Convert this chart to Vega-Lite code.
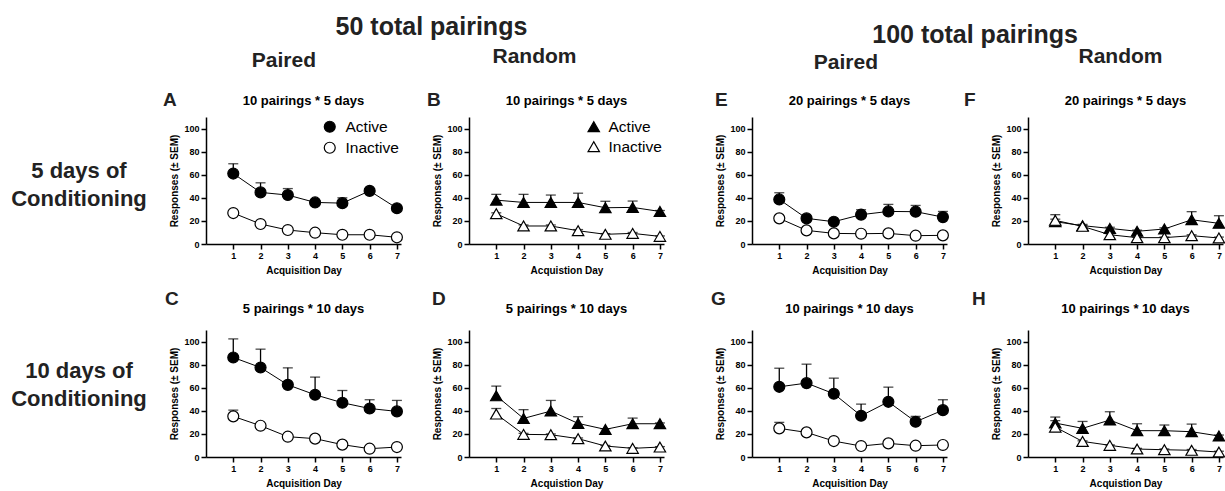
{
"$schema": "https://vega.github.io/schema/vega-lite/v6.json",
"background": "white",
"padding": {"top": 15, "left": 4, "right": 1, "bottom": 0},
"datasets": {
"main": [
{"panel":"A","series":"Active","day":1,"mean":61,"upper":69.5},
{"panel":"A","series":"Active","day":2,"mean":44.7,"upper":53},
{"panel":"A","series":"Active","day":3,"mean":42.4,"upper":48},
{"panel":"A","series":"Active","day":4,"mean":36,"upper":37},
{"panel":"A","series":"Active","day":5,"mean":35.4,"upper":40},
{"panel":"A","series":"Active","day":6,"mean":46,"upper":47},
{"panel":"A","series":"Active","day":7,"mean":31,"upper":32},
{"panel":"A","series":"Inactive","day":1,"mean":26.8,"upper":27.5},
{"panel":"A","series":"Inactive","day":2,"mean":17.3,"upper":18},
{"panel":"A","series":"Inactive","day":3,"mean":12.1,"upper":13},
{"panel":"A","series":"Inactive","day":4,"mean":9.8,"upper":10.5},
{"panel":"A","series":"Inactive","day":5,"mean":8,"upper":8.5},
{"panel":"A","series":"Inactive","day":6,"mean":8,"upper":8.5},
{"panel":"A","series":"Inactive","day":7,"mean":5.8,"upper":6.5},
{"panel":"B","series":"Active","day":1,"mean":38,"upper":43},
{"panel":"B","series":"Active","day":2,"mean":36,"upper":43},
{"panel":"B","series":"Active","day":3,"mean":36,"upper":42.4},
{"panel":"B","series":"Active","day":4,"mean":36,"upper":44},
{"panel":"B","series":"Active","day":5,"mean":31.4,"upper":37},
{"panel":"B","series":"Active","day":6,"mean":31.7,"upper":37.2},
{"panel":"B","series":"Active","day":7,"mean":28.2,"upper":29},
{"panel":"B","series":"Inactive","day":1,"mean":26.2,"upper":27},
{"panel":"B","series":"Inactive","day":2,"mean":15.6,"upper":16.5},
{"panel":"B","series":"Inactive","day":3,"mean":15.6,"upper":16.5},
{"panel":"B","series":"Inactive","day":4,"mean":11.5,"upper":12.5},
{"panel":"B","series":"Inactive","day":5,"mean":8.4,"upper":9},
{"panel":"B","series":"Inactive","day":6,"mean":9.2,"upper":10},
{"panel":"B","series":"Inactive","day":7,"mean":6.6,"upper":7},
{"panel":"E","series":"Active","day":1,"mean":38.6,"upper":44.4},
{"panel":"E","series":"Active","day":2,"mean":22.2,"upper":23},
{"panel":"E","series":"Active","day":3,"mean":19.3,"upper":20},
{"panel":"E","series":"Active","day":4,"mean":25.4,"upper":29.7},
{"panel":"E","series":"Active","day":5,"mean":28.2,"upper":34.3},
{"panel":"E","series":"Active","day":6,"mean":28,"upper":33.4},
{"panel":"E","series":"Active","day":7,"mean":23.3,"upper":28.2},
{"panel":"E","series":"Inactive","day":1,"mean":22.2,"upper":23},
{"panel":"E","series":"Inactive","day":2,"mean":11.8,"upper":12.5},
{"panel":"E","series":"Inactive","day":3,"mean":9.2,"upper":10},
{"panel":"E","series":"Inactive","day":4,"mean":8.9,"upper":9.5},
{"panel":"E","series":"Inactive","day":5,"mean":9.2,"upper":10},
{"panel":"E","series":"Inactive","day":6,"mean":7.2,"upper":8},
{"panel":"E","series":"Inactive","day":7,"mean":7.5,"upper":8},
{"panel":"F","series":"Active","day":1,"mean":19.3,"upper":25.4},
{"panel":"F","series":"Active","day":2,"mean":15.9,"upper":17},
{"panel":"F","series":"Active","day":3,"mean":13.5,"upper":14.5},
{"panel":"F","series":"Active","day":4,"mean":11,"upper":12},
{"panel":"F","series":"Active","day":5,"mean":13,"upper":14},
{"panel":"F","series":"Active","day":6,"mean":21,"upper":28},
{"panel":"F","series":"Active","day":7,"mean":17.9,"upper":24.5},
{"panel":"F","series":"Inactive","day":1,"mean":20.5,"upper":21.5},
{"panel":"F","series":"Inactive","day":2,"mean":15.3,"upper":16},
{"panel":"F","series":"Inactive","day":3,"mean":8,"upper":9},
{"panel":"F","series":"Inactive","day":4,"mean":5.5,"upper":6},
{"panel":"F","series":"Inactive","day":5,"mean":5.5,"upper":6},
{"panel":"F","series":"Inactive","day":6,"mean":7.2,"upper":8},
{"panel":"F","series":"Inactive","day":7,"mean":5.2,"upper":6},
{"panel":"C","series":"Active","day":1,"mean":86.2,"upper":102.3},
{"panel":"C","series":"Active","day":2,"mean":77.5,"upper":93.4},
{"panel":"C","series":"Active","day":3,"mean":62.5,"upper":77.2},
{"panel":"C","series":"Active","day":4,"mean":53.9,"upper":69.2},
{"panel":"C","series":"Active","day":5,"mean":47,"upper":57.6},
{"panel":"C","series":"Active","day":6,"mean":42,"upper":49.6},
{"panel":"C","series":"Active","day":7,"mean":39.5,"upper":49},
{"panel":"C","series":"Inactive","day":1,"mean":35.2,"upper":40.6},
{"panel":"C","series":"Inactive","day":2,"mean":27.1,"upper":28},
{"panel":"C","series":"Inactive","day":3,"mean":17.6,"upper":18.5},
{"panel":"C","series":"Inactive","day":4,"mean":15.9,"upper":16.5},
{"panel":"C","series":"Inactive","day":5,"mean":10.7,"upper":11.5},
{"panel":"C","series":"Inactive","day":6,"mean":7.2,"upper":8},
{"panel":"C","series":"Inactive","day":7,"mean":8.6,"upper":9.5},
{"panel":"D","series":"Active","day":1,"mean":53,"upper":61.4},
{"panel":"D","series":"Active","day":2,"mean":33.4,"upper":41},
{"panel":"D","series":"Active","day":3,"mean":39.8,"upper":49},
{"panel":"D","series":"Active","day":4,"mean":29.1,"upper":34.9},
{"panel":"D","series":"Active","day":5,"mean":23.9,"upper":24.5},
{"panel":"D","series":"Active","day":6,"mean":28.8,"upper":33.7},
{"panel":"D","series":"Active","day":7,"mean":28.8,"upper":29.5},
{"panel":"D","series":"Inactive","day":1,"mean":37.2,"upper":42},
{"panel":"D","series":"Inactive","day":2,"mean":19.6,"upper":20.5},
{"panel":"D","series":"Inactive","day":3,"mean":19.3,"upper":20},
{"panel":"D","series":"Inactive","day":4,"mean":15.9,"upper":16.5},
{"panel":"D","series":"Inactive","day":5,"mean":9.5,"upper":10},
{"panel":"D","series":"Inactive","day":6,"mean":7.5,"upper":8},
{"panel":"D","series":"Inactive","day":7,"mean":8.6,"upper":9},
{"panel":"G","series":"Active","day":1,"mean":60.8,"upper":76.9},
{"panel":"G","series":"Active","day":2,"mean":64,"upper":80.4},
{"panel":"G","series":"Active","day":3,"mean":54.8,"upper":68.3},
{"panel":"G","series":"Active","day":4,"mean":35.7,"upper":45.8},
{"panel":"G","series":"Active","day":5,"mean":47.8,"upper":60.5},
{"panel":"G","series":"Active","day":6,"mean":30.5,"upper":35.2},
{"panel":"G","series":"Active","day":7,"mean":40.6,"upper":49.6},
{"panel":"G","series":"Inactive","day":1,"mean":24.8,"upper":30},
{"panel":"G","series":"Inactive","day":2,"mean":21.3,"upper":22},
{"panel":"G","series":"Inactive","day":3,"mean":13.8,"upper":14.5},
{"panel":"G","series":"Inactive","day":4,"mean":9.5,"upper":10},
{"panel":"G","series":"Inactive","day":5,"mean":11.8,"upper":12.5},
{"panel":"G","series":"Inactive","day":6,"mean":9.8,"upper":10.5},
{"panel":"G","series":"Inactive","day":7,"mean":10.4,"upper":11},
{"panel":"H","series":"Active","day":1,"mean":29.4,"upper":34.6},
{"panel":"H","series":"Active","day":2,"mean":24.8,"upper":30.8},
{"panel":"H","series":"Active","day":3,"mean":32,"upper":39.2},
{"panel":"H","series":"Active","day":4,"mean":22.8,"upper":28.8},
{"panel":"H","series":"Active","day":5,"mean":22.8,"upper":27.7},
{"panel":"H","series":"Active","day":6,"mean":21.9,"upper":28.5},
{"panel":"H","series":"Active","day":7,"mean":18.2,"upper":19},
{"panel":"H","series":"Inactive","day":1,"mean":25.9,"upper":31.5},
{"panel":"H","series":"Inactive","day":2,"mean":13.5,"upper":14},
{"panel":"H","series":"Inactive","day":3,"mean":10.1,"upper":10.5},
{"panel":"H","series":"Inactive","day":4,"mean":6.9,"upper":7.5},
{"panel":"H","series":"Inactive","day":5,"mean":6.3,"upper":7},
{"panel":"H","series":"Inactive","day":6,"mean":5.8,"upper":6.5},
{"panel":"H","series":"Inactive","day":7,"mean":4.3,"upper":5}
]
},
"spacing": 8,
"resolve": {"scale": {"fill": "independent"}},
"hconcat": [
{
"data": {"values": [{"label": "5 days of\nConditioning"}, {"label": "10 days of\nConditioning"}]},
"width": 150, "height": 400,
"mark": {"type": "text", "fontSize": 22, "fontWeight": "bold", "lineBreak": "\n", "lineHeight": 28, "color": "#222", "align": "center", "baseline": "middle"},
"encoding": {
"text": {"field": "label"},
"y": {"field": "label", "type": "nominal", "sort": null, "scale": {"type": "point", "padding": 0.5, "align": 0.27}, "axis": null}
}
},
{
"spacing": 42,
"resolve": {"scale": {"fill": "independent"}},
"hconcat": [
{
"title": {"text": "50 total pairings", "fontSize": 25, "color": "#222", "offset": 6, "anchor": "middle", "dx": 16},
"spacing": 22,
"resolve": {"scale": {"fill": "independent"}},
"hconcat": [
{
"title": {"text": "Paired", "fontSize": 21, "color": "#222", "offset": 20, "anchor": "middle"},
"spacing": 15,
"resolve": {"scale": {"fill": "independent"}},
"vconcat": [
{
"width": 195, "height": 127,
"title": {"text": "10 pairings * 5 days", "fontSize": 13, "color": "black", "frame": "group", "anchor": "middle", "offset": -17},
"data": {"name": "main"},
"transform": [{"filter": "datum.panel == 'A'"}],
"encoding": {
"x": {"field": "day", "type": "quantitative", "scale": {"domain": [0, 7.15], "nice": false, "zero": false}, "axis": {"values": [1,2,3,4,5,6,7], "title": "Acquisition Day"}},
"y": {"field": "mean", "type": "quantitative", "scale": {"domain": [0, 110], "nice": false}, "axis": {"values": [0,20,40,60,80,100], "title": "Responses (± SEM)"}}
},
"layer": [
{"mark": {"type": "rule", "color": "black", "strokeWidth": 1.3}, "encoding": {"y2": {"field": "upper"}}},
{"mark": {"type": "tick", "orient": "horizontal", "color": "black", "size": 10, "thickness": 1.3}, "encoding": {"y": {"field": "upper", "type": "quantitative"}}},
{"mark": {"type": "line", "color": "black", "strokeWidth": 1}, "encoding": {"detail": {"field": "series"}}},
{"mark": {"type": "point", "shape": "circle", "filled": true, "size": 120, "stroke": "black", "strokeWidth": 1.2, "opacity": 1},
 "encoding": {"fill": {"field": "series", "type": "nominal", "scale": {"domain": ["Active", "Inactive"], "range": ["black", "white"]},
  "legend": {"title": null, "orient": "top-right", "offset": 2, "padding": 0, "symbolType": "circle", "symbolSize": 120, "symbolStrokeColor": "black", "symbolStrokeWidth": 1.2, "labelFontSize": 15.5, "labelFontWeight": "normal", "labelColor": "black", "labelOffset": 8, "rowPadding": 3}}}},
{"transform": [{"filter": "datum.day == 1 && datum.series == 'Active'"}], "mark": {"type": "text", "text": "A", "fontSize": 19, "fontWeight": "bold", "align": "left", "baseline": "alphabetic", "color": "#222", "clip": false}, "encoding": {"x": {"datum": -1.58}, "y": {"datum": 119.5}}}
]
},
{
"width": 195, "height": 127,
"title": {"text": "5 pairings * 10 days", "fontSize": 13, "color": "black", "frame": "group", "anchor": "middle", "offset": -26},
"data": {"name": "main"},
"transform": [{"filter": "datum.panel == 'C'"}],
"encoding": {
"x": {"field": "day", "type": "quantitative", "scale": {"domain": [0, 7.15], "nice": false, "zero": false}, "axis": {"values": [1,2,3,4,5,6,7], "title": "Acquisition Day"}},
"y": {"field": "mean", "type": "quantitative", "scale": {"domain": [0, 110], "nice": false}, "axis": {"values": [0,20,40,60,80,100], "title": "Responses (± SEM)"}}
},
"layer": [
{"mark": {"type": "rule", "color": "black", "strokeWidth": 1.3}, "encoding": {"y2": {"field": "upper"}}},
{"mark": {"type": "tick", "orient": "horizontal", "color": "black", "size": 10, "thickness": 1.3}, "encoding": {"y": {"field": "upper", "type": "quantitative"}}},
{"mark": {"type": "line", "color": "black", "strokeWidth": 1}, "encoding": {"detail": {"field": "series"}}},
{"mark": {"type": "point", "shape": "circle", "filled": true, "size": 120, "stroke": "black", "strokeWidth": 1.2, "opacity": 1},
 "encoding": {"fill": {"field": "series", "type": "nominal", "scale": {"domain": ["Active", "Inactive"], "range": ["black", "white"]}, "legend": null}}},
{"transform": [{"filter": "datum.day == 1 && datum.series == 'Active'"}], "mark": {"type": "text", "text": "C", "fontSize": 19, "fontWeight": "bold", "align": "left", "baseline": "alphabetic", "color": "#222", "clip": false}, "encoding": {"x": {"datum": -1.5}, "y": {"datum": 131.6}}}
]
}
]
},
{
"title": {"text": "Random", "fontSize": 21, "color": "#222", "offset": 24, "anchor": "middle", "dx": -13},
"spacing": 15,
"resolve": {"scale": {"fill": "independent"}},
"vconcat": [
{
"width": 195, "height": 127,
"title": {"text": "10 pairings * 5 days", "fontSize": 13, "color": "black", "frame": "group", "anchor": "middle", "offset": -17},
"data": {"name": "main"},
"transform": [{"filter": "datum.panel == 'B'"}],
"encoding": {
"x": {"field": "day", "type": "quantitative", "scale": {"domain": [0, 7.15], "nice": false, "zero": false}, "axis": {"values": [1,2,3,4,5,6,7], "title": "Acquistion Day"}},
"y": {"field": "mean", "type": "quantitative", "scale": {"domain": [0, 110], "nice": false}, "axis": {"values": [0,20,40,60,80,100], "title": "Responses (± SEM)"}}
},
"layer": [
{"mark": {"type": "rule", "color": "black", "strokeWidth": 1.3}, "encoding": {"y2": {"field": "upper"}}},
{"mark": {"type": "tick", "orient": "horizontal", "color": "black", "size": 10, "thickness": 1.3}, "encoding": {"y": {"field": "upper", "type": "quantitative"}}},
{"mark": {"type": "line", "color": "black", "strokeWidth": 1}, "encoding": {"detail": {"field": "series"}}},
{"mark": {"type": "point", "shape": "triangle-up", "filled": true, "size": 130, "stroke": "black", "strokeWidth": 1.2, "opacity": 1},
 "encoding": {"fill": {"field": "series", "type": "nominal", "scale": {"domain": ["Active", "Inactive"], "range": ["black", "white"]},
  "legend": {"title": null, "orient": "top-right", "offset": 2, "padding": 0, "symbolType": "triangle-up", "symbolSize": 130, "symbolStrokeColor": "black", "symbolStrokeWidth": 1.2, "labelFontSize": 15.5, "labelFontWeight": "normal", "labelColor": "black", "labelOffset": 7, "rowPadding": 3}}}},
{"transform": [{"filter": "datum.day == 1 && datum.series == 'Active'"}], "mark": {"type": "text", "text": "B", "fontSize": 19, "fontWeight": "bold", "align": "left", "baseline": "alphabetic", "color": "#222", "clip": false}, "encoding": {"x": {"datum": -1.54}, "y": {"datum": 119.5}}}
]
},
{
"width": 195, "height": 127,
"title": {"text": "5 pairings * 10 days", "fontSize": 13, "color": "black", "frame": "group", "anchor": "middle", "offset": -26},
"data": {"name": "main"},
"transform": [{"filter": "datum.panel == 'D'"}],
"encoding": {
"x": {"field": "day", "type": "quantitative", "scale": {"domain": [0, 7.15], "nice": false, "zero": false}, "axis": {"values": [1,2,3,4,5,6,7], "title": "Acquistion Day"}},
"y": {"field": "mean", "type": "quantitative", "scale": {"domain": [0, 110], "nice": false}, "axis": {"values": [0,20,40,60,80,100], "title": "Responses (± SEM)"}}
},
"layer": [
{"mark": {"type": "rule", "color": "black", "strokeWidth": 1.3}, "encoding": {"y2": {"field": "upper"}}},
{"mark": {"type": "tick", "orient": "horizontal", "color": "black", "size": 10, "thickness": 1.3}, "encoding": {"y": {"field": "upper", "type": "quantitative"}}},
{"mark": {"type": "line", "color": "black", "strokeWidth": 1}, "encoding": {"detail": {"field": "series"}}},
{"mark": {"type": "point", "shape": "triangle-up", "filled": true, "size": 130, "stroke": "black", "strokeWidth": 1.2, "opacity": 1},
 "encoding": {"fill": {"field": "series", "type": "nominal", "scale": {"domain": ["Active", "Inactive"], "range": ["black", "white"]}, "legend": null}}},
{"transform": [{"filter": "datum.day == 1 && datum.series == 'Active'"}], "mark": {"type": "text", "text": "D", "fontSize": 19, "fontWeight": "bold", "align": "left", "baseline": "alphabetic", "color": "#222", "clip": false}, "encoding": {"x": {"datum": -1.36}, "y": {"datum": 131.6}}}
]
}
]
}
]
},
{
"title": {"text": "100 total pairings", "fontSize": 25, "color": "#222", "offset": 6, "anchor": "middle", "dy": 8, "dx": 6},
"spacing": 12,
"resolve": {"scale": {"fill": "independent"}},
"hconcat": [
{
"title": {"text": "Paired", "fontSize": 21, "color": "#222", "offset": 20, "anchor": "middle", "dx": 15, "dy": 2},
"spacing": 15,
"resolve": {"scale": {"fill": "independent"}},
"vconcat": [
{
"width": 195, "height": 127,
"title": {"text": "20 pairings * 5 days", "fontSize": 13, "color": "black", "frame": "group", "anchor": "middle", "offset": -17},
"data": {"name": "main"},
"transform": [{"filter": "datum.panel == 'E'"}],
"encoding": {
"x": {"field": "day", "type": "quantitative", "scale": {"domain": [0, 7.15], "nice": false, "zero": false}, "axis": {"values": [1,2,3,4,5,6,7], "title": "Acquisition Day"}},
"y": {"field": "mean", "type": "quantitative", "scale": {"domain": [0, 110], "nice": false}, "axis": {"values": [0,20,40,60,80,100], "title": "Responses (± SEM)"}}
},
"layer": [
{"mark": {"type": "rule", "color": "black", "strokeWidth": 1.3}, "encoding": {"y2": {"field": "upper"}}},
{"mark": {"type": "tick", "orient": "horizontal", "color": "black", "size": 10, "thickness": 1.3}, "encoding": {"y": {"field": "upper", "type": "quantitative"}}},
{"mark": {"type": "line", "color": "black", "strokeWidth": 1}, "encoding": {"detail": {"field": "series"}}},
{"mark": {"type": "point", "shape": "circle", "filled": true, "size": 120, "stroke": "black", "strokeWidth": 1.2, "opacity": 1},
 "encoding": {"fill": {"field": "series", "type": "nominal", "scale": {"domain": ["Active", "Inactive"], "range": ["black", "white"]}, "legend": null}}},
{"transform": [{"filter": "datum.day == 1 && datum.series == 'Active'"}], "mark": {"type": "text", "text": "E", "fontSize": 19, "fontWeight": "bold", "align": "left", "baseline": "alphabetic", "color": "#222", "clip": false}, "encoding": {"x": {"datum": -1.36}, "y": {"datum": 119.5}}}
]
},
{
"width": 195, "height": 127,
"title": {"text": "10 pairings * 10 days", "fontSize": 13, "color": "black", "frame": "group", "anchor": "middle", "offset": -26},
"data": {"name": "main"},
"transform": [{"filter": "datum.panel == 'G'"}],
"encoding": {
"x": {"field": "day", "type": "quantitative", "scale": {"domain": [0, 7.15], "nice": false, "zero": false}, "axis": {"values": [1,2,3,4,5,6,7], "title": "Acquisition Day"}},
"y": {"field": "mean", "type": "quantitative", "scale": {"domain": [0, 110], "nice": false}, "axis": {"values": [0,20,40,60,80,100], "title": "Responses (± SEM)"}}
},
"layer": [
{"mark": {"type": "rule", "color": "black", "strokeWidth": 1.3}, "encoding": {"y2": {"field": "upper"}}},
{"mark": {"type": "tick", "orient": "horizontal", "color": "black", "size": 10, "thickness": 1.3}, "encoding": {"y": {"field": "upper", "type": "quantitative"}}},
{"mark": {"type": "line", "color": "black", "strokeWidth": 1}, "encoding": {"detail": {"field": "series"}}},
{"mark": {"type": "point", "shape": "circle", "filled": true, "size": 120, "stroke": "black", "strokeWidth": 1.2, "opacity": 1},
 "encoding": {"fill": {"field": "series", "type": "nominal", "scale": {"domain": ["Active", "Inactive"], "range": ["black", "white"]}, "legend": null}}},
{"transform": [{"filter": "datum.day == 1 && datum.series == 'Active'"}], "mark": {"type": "text", "text": "G", "fontSize": 19, "fontWeight": "bold", "align": "left", "baseline": "alphabetic", "color": "#222", "clip": false}, "encoding": {"x": {"datum": -1.5}, "y": {"datum": 131.6}}}
]
}
]
},
{
"title": {"text": "Random", "fontSize": 21, "color": "#222", "offset": 24, "anchor": "middle", "dx": 25},
"spacing": 15,
"resolve": {"scale": {"fill": "independent"}},
"vconcat": [
{
"width": 195, "height": 127,
"title": {"text": "20 pairings * 5 days", "fontSize": 13, "color": "black", "frame": "group", "anchor": "middle", "offset": -17},
"data": {"name": "main"},
"transform": [{"filter": "datum.panel == 'F'"}],
"encoding": {
"x": {"field": "day", "type": "quantitative", "scale": {"domain": [0, 7.15], "nice": false, "zero": false}, "axis": {"values": [1,2,3,4,5,6,7], "title": "Acquistion Day"}},
"y": {"field": "mean", "type": "quantitative", "scale": {"domain": [0, 110], "nice": false}, "axis": {"values": [0,20,40,60,80,100], "title": "Responses (± SEM)"}}
},
"layer": [
{"mark": {"type": "rule", "color": "black", "strokeWidth": 1.3}, "encoding": {"y2": {"field": "upper"}}},
{"mark": {"type": "tick", "orient": "horizontal", "color": "black", "size": 10, "thickness": 1.3}, "encoding": {"y": {"field": "upper", "type": "quantitative"}}},
{"mark": {"type": "line", "color": "black", "strokeWidth": 1}, "encoding": {"detail": {"field": "series"}}},
{"mark": {"type": "point", "shape": "triangle-up", "filled": true, "size": 130, "stroke": "black", "strokeWidth": 1.2, "opacity": 1},
 "encoding": {"fill": {"field": "series", "type": "nominal", "scale": {"domain": ["Active", "Inactive"], "range": ["black", "white"]}, "legend": null}}},
{"transform": [{"filter": "datum.day == 1 && datum.series == 'Active'"}], "mark": {"type": "text", "text": "F", "fontSize": 19, "fontWeight": "bold", "align": "left", "baseline": "alphabetic", "color": "#222", "clip": false}, "encoding": {"x": {"datum": -2.35}, "y": {"datum": 119.5}}}
]
},
{
"width": 195, "height": 127,
"title": {"text": "10 pairings * 10 days", "fontSize": 13, "color": "black", "frame": "group", "anchor": "middle", "offset": -26},
"data": {"name": "main"},
"transform": [{"filter": "datum.panel == 'H'"}],
"encoding": {
"x": {"field": "day", "type": "quantitative", "scale": {"domain": [0, 7.15], "nice": false, "zero": false}, "axis": {"values": [1,2,3,4,5,6,7], "title": "Acquistion Day"}},
"y": {"field": "mean", "type": "quantitative", "scale": {"domain": [0, 110], "nice": false}, "axis": {"values": [0,20,40,60,80,100], "title": "Responses (± SEM)"}}
},
"layer": [
{"mark": {"type": "rule", "color": "black", "strokeWidth": 1.3}, "encoding": {"y2": {"field": "upper"}}},
{"mark": {"type": "tick", "orient": "horizontal", "color": "black", "size": 10, "thickness": 1.3}, "encoding": {"y": {"field": "upper", "type": "quantitative"}}},
{"mark": {"type": "line", "color": "black", "strokeWidth": 1}, "encoding": {"detail": {"field": "series"}}},
{"mark": {"type": "point", "shape": "triangle-up", "filled": true, "size": 130, "stroke": "black", "strokeWidth": 1.2, "opacity": 1},
 "encoding": {"fill": {"field": "series", "type": "nominal", "scale": {"domain": ["Active", "Inactive"], "range": ["black", "white"]}, "legend": null}}},
{"transform": [{"filter": "datum.day == 1 && datum.series == 'Active'"}], "mark": {"type": "text", "text": "H", "fontSize": 19, "fontWeight": "bold", "align": "left", "baseline": "alphabetic", "color": "#222", "clip": false}, "encoding": {"x": {"datum": -2.05}, "y": {"datum": 131.6}}}
]
}
]
}
]
}
]
}
],
"config": {
"font": "Liberation Sans",
"view": {"stroke": null},
"axis": {"grid": false, "domainColor": "black", "domainWidth": 1.5, "tickColor": "black", "tickWidth": 1.5, "tickSize": 5, "labelFontSize": 9, "labelFontWeight": "bold", "labelColor": "black", "labelPadding": 2, "titleFontSize": 10, "titleFontWeight": "bold", "titleColor": "black"},
"axisX": {"titlePadding": 5},
"axisY": {"titlePadding": 4},
"title": {"fontWeight": "bold", "font": "Liberation Sans"}
}
}
